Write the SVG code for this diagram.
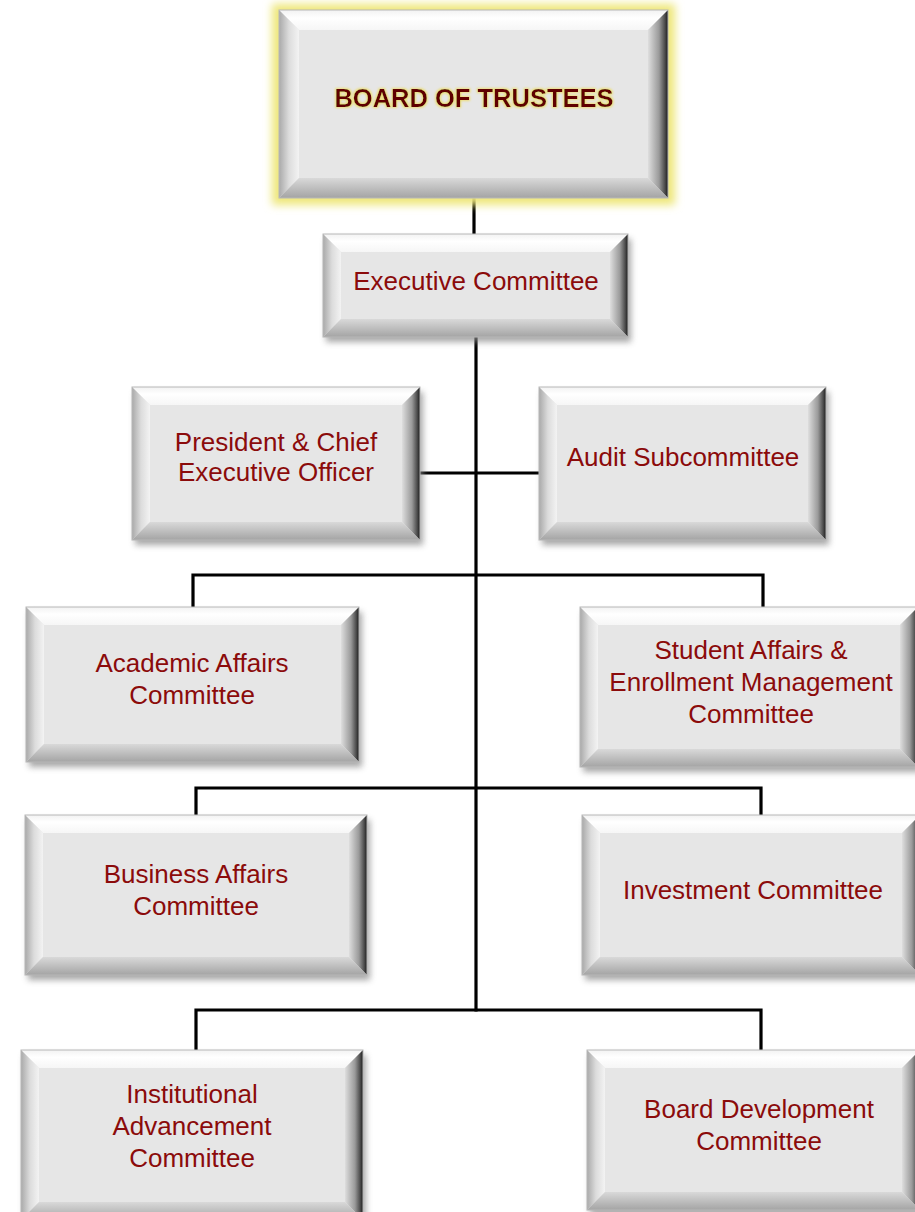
<svg xmlns="http://www.w3.org/2000/svg" width="915" height="1212" viewBox="0 0 915 1212">
<defs>
<linearGradient id="gTop" x1="0" y1="0" x2="0" y2="1"><stop offset="0" stop-color="#f2f2f2"/><stop offset="0.4" stop-color="#ffffff"/><stop offset="1" stop-color="#f6f6f6"/></linearGradient>
<linearGradient id="gLeft" x1="0" y1="0" x2="1" y2="0"><stop offset="0" stop-color="#a9a9a9"/><stop offset="0.5" stop-color="#dcdcdc"/><stop offset="1" stop-color="#f3f3f3"/></linearGradient>
<linearGradient id="gRight" x1="0" y1="0" x2="1" y2="0"><stop offset="0" stop-color="#dedede"/><stop offset="0.55" stop-color="#9a9a9a"/><stop offset="0.85" stop-color="#4a4a4a"/><stop offset="1" stop-color="#1a1a1a"/></linearGradient>
<linearGradient id="gBot" x1="0" y1="0" x2="0" y2="1"><stop offset="0" stop-color="#d9d9d9"/><stop offset="1" stop-color="#a4a4a4"/></linearGradient>
<filter id="shadow" x="-10%" y="-10%" width="120%" height="130%"><feGaussianBlur stdDeviation="3"/></filter>
<filter id="glow" x="-10%" y="-10%" width="120%" height="120%"><feGaussianBlur stdDeviation="4"/></filter>
<filter id="tglow" x="-10%" y="-30%" width="120%" height="160%">
<feMorphology in="SourceAlpha" operator="dilate" radius="1" result="d"/>
<feGaussianBlur in="d" stdDeviation="1" result="b"/>
<feFlood flood-color="#eedd66" flood-opacity="0.85"/>
<feComposite in2="b" operator="in" result="g"/>
<feMerge><feMergeNode in="g"/><feMergeNode in="SourceGraphic"/></feMerge>
</filter>
<filter id="lshadow" x="-5%" y="-50%" width="110%" height="300%"><feGaussianBlur stdDeviation="2"/></filter>
</defs>
<style>
.base{fill:#e6e6e6}
.top{fill:url(#gTop)}
.left{fill:url(#gLeft)}
.right{fill:url(#gRight)}
.bot{fill:url(#gBot)}
.edge{fill:none;stroke:#b8b8b8;stroke-width:1}
.sh{fill:#8a8a8a;opacity:0.75;filter:url(#shadow)}
.lbl{font-family:"Liberation Sans",Arial,sans-serif;font-size:26px;fill:#8b0b0b;text-anchor:middle}
.title{font-family:"Liberation Sans",Arial,sans-serif;font-size:25.5px;font-weight:bold;fill:#5e0505;text-anchor:middle;filter:url(#tglow)}
.conn{fill:none;stroke:#000;stroke-width:3.2;stroke-linejoin:miter;stroke-linecap:square}
.connsh{fill:none;stroke:#9a9a9a;stroke-width:4;opacity:0.6;filter:url(#lshadow)}
</style>

<g id="connectors">
<g transform="translate(2,6)">
<path class="connsh" d="M420,473 H539"/>
<path class="connsh" d="M193,575 H763"/>
<path class="connsh" d="M196,788 H761"/>
<path class="connsh" d="M196,1010 H761"/>
</g>
<path class="conn" d="M474,198 V234"/>
<path class="conn" d="M476,337 V1010"/>
<path class="conn" d="M420,473 H539"/>
<path class="conn" d="M193,607 V575 H763 V607"/>
<path class="conn" d="M196,815 V788 H761 V815"/>
<path class="conn" d="M196,1050 V1010 H761 V1050"/>
</g>

<g id="board">
<rect x="272" y="4" width="403" height="201" fill="#eee77a" filter="url(#glow)"/>
<rect class="base" x="279" y="10" width="389" height="188"/>
<polygon class="top" points="279,10 668,10 648,30 299,30"/>
<polygon class="left" points="279,10 299,30 299,178 279,198"/>
<polygon class="right" points="668,10 668,198 648,178 648,30"/>
<polygon class="bot" points="279,198 299,178 648,178 668,198"/>
<rect class="edge" x="279" y="10" width="389" height="188"/>
<text class="title" x="474" y="107">BOARD OF TRUSTEES</text>
</g>

<g id="executive">
<rect class="sh" x="326" y="239" width="305" height="103"/>
<rect class="base" x="323" y="234" width="305" height="103"/>
<polygon class="top" points="323,234 628,234 610,252 341,252"/>
<polygon class="left" points="323,234 341,252 341,319 323,337"/>
<polygon class="right" points="628,234 628,337 610,319 610,252"/>
<polygon class="bot" points="323,337 341,319 610,319 628,337"/>
<rect class="edge" x="323" y="234" width="305" height="103"/>
<text class="lbl" x="476" y="290">Executive Committee</text>
</g>

<g id="president">
<rect class="sh" x="135" y="392" width="288" height="153"/>
<rect class="base" x="132" y="387" width="288" height="153"/>
<polygon class="top" points="132,387 420,387 402,405 150,405"/>
<polygon class="left" points="132,387 150,405 150,522 132,540"/>
<polygon class="right" points="420,387 420,540 402,522 402,405"/>
<polygon class="bot" points="132,540 150,522 402,522 420,540"/>
<rect class="edge" x="132" y="387" width="288" height="153"/>
<text class="lbl" x="276" y="451">President &amp; Chief</text>
<text class="lbl" x="276" y="481">Executive Officer</text>
</g>

<g id="audit">
<rect class="sh" x="542" y="392" width="287" height="153"/>
<rect class="base" x="539" y="387" width="287" height="153"/>
<polygon class="top" points="539,387 826,387 808,405 557,405"/>
<polygon class="left" points="539,387 557,405 557,522 539,540"/>
<polygon class="right" points="826,387 826,540 808,522 808,405"/>
<polygon class="bot" points="539,540 557,522 808,522 826,540"/>
<rect class="edge" x="539" y="387" width="287" height="153"/>
<text class="lbl" x="683" y="466">Audit Subcommittee</text>
</g>

<g id="academic">
<rect class="sh" x="29" y="612" width="333" height="155"/>
<rect class="base" x="26" y="607" width="333" height="155"/>
<polygon class="top" points="26,607 359,607 341,625 44,625"/>
<polygon class="left" points="26,607 44,625 44,744 26,762"/>
<polygon class="right" points="359,607 359,762 341,744 341,625"/>
<polygon class="bot" points="26,762 44,744 341,744 359,762"/>
<rect class="edge" x="26" y="607" width="333" height="155"/>
<text class="lbl" x="192" y="672">Academic Affairs</text>
<text class="lbl" x="192" y="704">Committee</text>
</g>

<g id="student">
<rect class="sh" x="583" y="612" width="338" height="160"/>
<rect class="base" x="580" y="607" width="338" height="160"/>
<polygon class="top" points="580,607 918,607 900,625 598,625"/>
<polygon class="left" points="580,607 598,625 598,749 580,767"/>
<polygon class="right" points="918,607 918,767 900,749 900,625"/>
<polygon class="bot" points="580,767 598,749 900,749 918,767"/>
<rect class="edge" x="580" y="607" width="338" height="160"/>
<text class="lbl" x="751" y="659">Student Affairs &amp;</text>
<text class="lbl" x="751" y="691">Enrollment Management</text>
<text class="lbl" x="751" y="723">Committee</text>
</g>

<g id="business">
<rect class="sh" x="28" y="820" width="342" height="160"/>
<rect class="base" x="25" y="815" width="342" height="160"/>
<polygon class="top" points="25,815 367,815 349,833 43,833"/>
<polygon class="left" points="25,815 43,833 43,957 25,975"/>
<polygon class="right" points="367,815 367,975 349,957 349,833"/>
<polygon class="bot" points="25,975 43,957 349,957 367,975"/>
<rect class="edge" x="25" y="815" width="342" height="160"/>
<text class="lbl" x="196" y="883">Business Affairs</text>
<text class="lbl" x="196" y="915">Committee</text>
</g>

<g id="investment">
<rect class="sh" x="585" y="820" width="338" height="160"/>
<rect class="base" x="582" y="815" width="338" height="160"/>
<polygon class="top" points="582,815 920,815 902,833 600,833"/>
<polygon class="left" points="582,815 600,833 600,957 582,975"/>
<polygon class="right" points="920,815 920,975 902,957 902,833"/>
<polygon class="bot" points="582,975 600,957 902,957 920,975"/>
<rect class="edge" x="582" y="815" width="338" height="160"/>
<text class="lbl" x="753" y="899">Investment Committee</text>
</g>

<g id="institutional">
<rect class="sh" x="24" y="1055" width="342" height="170"/>
<rect class="base" x="21" y="1050" width="342" height="170"/>
<polygon class="top" points="21,1050 363,1050 345,1068 39,1068"/>
<polygon class="left" points="21,1050 39,1068 39,1202 21,1220"/>
<polygon class="right" points="363,1050 363,1220 345,1202 345,1068"/>
<polygon class="bot" points="21,1220 39,1202 345,1202 363,1220"/>
<rect class="edge" x="21" y="1050" width="342" height="170"/>
<text class="lbl" x="192" y="1103">Institutional</text>
<text class="lbl" x="192" y="1135">Advancement</text>
<text class="lbl" x="192" y="1167">Committee</text>
</g>

<g id="boarddev">
<rect class="sh" x="590" y="1055" width="333" height="160"/>
<rect class="base" x="587" y="1050" width="333" height="160"/>
<polygon class="top" points="587,1050 920,1050 902,1068 605,1068"/>
<polygon class="left" points="587,1050 605,1068 605,1192 587,1210"/>
<polygon class="right" points="920,1050 920,1210 902,1192 902,1068"/>
<polygon class="bot" points="587,1210 605,1192 902,1192 920,1210"/>
<rect class="edge" x="587" y="1050" width="333" height="160"/>
<text class="lbl" x="759" y="1118">Board Development</text>
<text class="lbl" x="759" y="1150">Committee</text>
</g>
</svg>
